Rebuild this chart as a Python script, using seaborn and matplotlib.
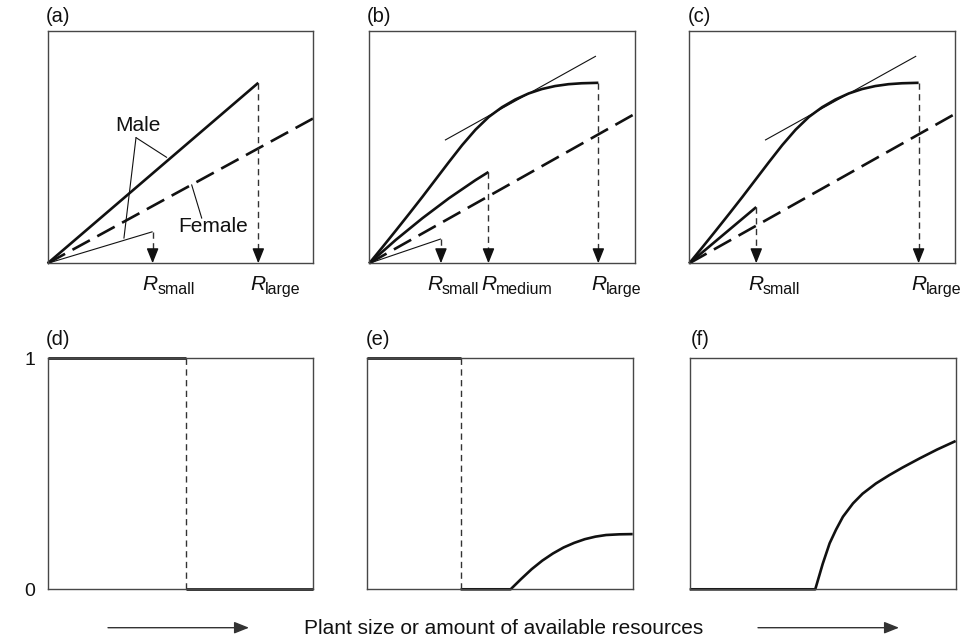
import numpy as np
import pandas as pd
import matplotlib
matplotlib.use('Agg')
import matplotlib.pyplot as plt
import seaborn as sns
from matplotlib.patches import FancyArrowPatch

# ---------------- data (axes normalised 0..1) ----------------
# panel (a)
a_large_x = [0.0, 0.793]
a_large_y = [0.0, 0.777]
a_small_x = [0.0, 0.395]
a_small_y = [0.0, 0.136]
a_female_x = [0.0, 1.0]
a_female_y = [0.0, 0.624]
a_r_small, a_r_large = 0.395, 0.793

# panels (b) and (c): large curve and tangent
bc_large_x = [0.0, 0.05, 0.10, 0.15, 0.20, 0.25, 0.30, 0.35, 0.40, 0.45,
              0.50, 0.55, 0.60, 0.65, 0.70, 0.75, 0.80, 0.863]
bc_large_y = [0.0, 0.070, 0.141, 0.213, 0.286, 0.361, 0.436, 0.509, 0.575, 0.630,
              0.672, 0.705, 0.731, 0.750, 0.763, 0.771, 0.775, 0.777]
bc_tangent_x = [0.285, 0.854]
bc_tangent_y = [0.530, 0.892]
bc_female_x = [0.0, 1.0]
bc_female_y = [0.0, 0.643]

# panel (b)
b_medium_x = [0.0, 0.10, 0.20, 0.30, 0.40, 0.449]
b_medium_y = [0.0, 0.101, 0.194, 0.280, 0.358, 0.393]
b_small_x = [0.0, 0.270]
b_small_y = [0.0, 0.105]
b_r_small, b_r_medium, b_r_large = 0.270, 0.449, 0.863

# panel (c)
c_small_x = [0.0, 0.252]
c_small_y = [0.0, 0.242]
c_r_small, c_r_large = 0.252, 0.863

# panel (d)
d_switch = 0.521
# panel (e)
e_switch = 0.353
e_curve_x = [0.353, 0.541, 0.58, 0.62, 0.66, 0.70, 0.74, 0.78, 0.82, 0.86, 0.90, 0.95, 1.0]
e_curve_y = [0.0, 0.0, 0.044, 0.087, 0.124, 0.155, 0.181, 0.201, 0.217, 0.228, 0.235, 0.238, 0.239]
# panel (f)
f_curve_x = [0.0, 0.472, 0.50, 0.526, 0.55, 0.576, 0.614, 0.65, 0.70, 0.75, 0.80, 0.865, 0.93, 1.0]
f_curve_y = [0.0, 0.0, 0.110, 0.199, 0.258, 0.314, 0.372, 0.414, 0.458, 0.494, 0.527, 0.567, 0.605, 0.642]

panel_labels = ['(a)', '(b)', '(c)', '(d)', '(e)', '(f)']
gender_ticks = [0, 1]
gender_ticklabels = ['0', '1']
caption = 'Plant size or amount of available resources'

# ---------------- style ----------------
sns.set_theme(style='white')
plt.rcParams['font.family'] = ['Liberation Sans', 'DejaVu Sans']

INK = '#111111'
SPINE = '#474747'
THICK = 1.9
THIN = 0.8

W, H = 963, 640
fig = plt.figure(figsize=(W / 100, H / 100), dpi=100)
PT = 72 / 100  # points per pixel


def px_axes(left, top, right, bottom):
    ax = fig.add_axes([left / W, 1 - bottom / H, (right - left) / W, (bottom - top) / H])
    ax.set_xlim(0, 1)
    ax.set_ylim(0, 1)
    ax.set_xticks([])
    ax.set_yticks([])
    for s in ax.spines.values():
        s.set_color(SPINE)
        s.set_linewidth(1.0)
        s.set_visible(True)
    return ax


def draw(ax, xs, ys, lw=THICK, ls='-', color=INK, clip=False):
    df = pd.DataFrame({'x': xs, 'y': ys})
    sns.lineplot(data=df, x='x', y='y', ax=ax, color=color, linewidth=lw,
                 linestyle=ls, estimator=None, sort=False, clip_on=clip,
                 solid_capstyle='butt', solid_joinstyle='round')
    ax.set_xlabel('')
    ax.set_ylabel('')


def down_arrow(ax, x, y_top):
    ax.plot([x, x], [y_top, 0.05], linestyle=(0, (4.5, 3.2)), lw=1.0, color='#333333')
    ax.annotate('', xy=(x, 0), xytext=(x, 0.055),
                arrowprops=dict(arrowstyle='-|>,head_length=0.9,head_width=0.36',
                                mutation_scale=10, color=INK, lw=1.0,
                                shrinkA=0, shrinkB=0),
                annotation_clip=False)


R_SIZE = 15
SUB_SIZE = 11.5


def r_label(ax, x, sub, dx_px):
    # italic R, then an upright subscript slightly lower
    ax.annotate('R', xy=(x, 0), xycoords='data',
                xytext=(dx_px * PT, -27 * PT), textcoords='offset points',
                ha='left', va='baseline', fontsize=R_SIZE, style='italic',
                color=INK, annotation_clip=False)
    r_width_pt = 0.722 * R_SIZE
    ax.annotate(sub, xy=(x, 0), xycoords='data',
                xytext=(dx_px * PT + r_width_pt - 0.3, -31 * PT), textcoords='offset points',
                ha='left', va='baseline', fontsize=SUB_SIZE,
                color=INK, annotation_clip=False)


FEMALE_LS = (0, (7.5, 3.2))

# ---------------- top row ----------------
ax_a = px_axes(47.7, 31.0, 313.3, 263.3)
ax_b = px_axes(369.3, 31.0, 634.7, 263.3)
ax_c = px_axes(689.3, 31.0, 955.0, 263.3)

# (a)
draw(ax_a, a_large_x, a_large_y)
draw(ax_a, a_female_x, a_female_y, ls=FEMALE_LS)
draw(ax_a, a_small_x, a_small_y, lw=THIN)
down_arrow(ax_a, a_r_small, a_small_y[-1])
down_arrow(ax_a, a_r_large, a_large_y[-1])
r_label(ax_a, a_r_small, 'small', -10)
r_label(ax_a, a_r_large, 'large', -8)
ax_a.text(0.341, 0.5695, 'Male', ha='center', va='baseline', fontsize=15, color=INK)
ax_a.plot([0.3325, 0.448], [0.541, 0.456], lw=THIN, color=INK)
ax_a.plot([0.3325, 0.287], [0.541, 0.108], lw=THIN, color=INK)
ax_a.text(0.624, 0.136, 'Female', ha='center', va='baseline', fontsize=15, color=INK)
ax_a.plot([0.580, 0.542], [0.194, 0.338], lw=THIN, color=INK)

# (b)
draw(ax_b, bc_large_x, bc_large_y)
draw(ax_b, bc_tangent_x, bc_tangent_y, lw=THIN)
draw(ax_b, b_medium_x, b_medium_y)
draw(ax_b, bc_female_x, bc_female_y, ls=FEMALE_LS)
draw(ax_b, b_small_x, b_small_y, lw=THIN)
down_arrow(ax_b, b_r_small, b_small_y[-1])
down_arrow(ax_b, b_r_medium, b_medium_y[-1])
down_arrow(ax_b, b_r_large, bc_large_y[-1])
r_label(ax_b, b_r_small, 'small', -14)
r_label(ax_b, b_r_medium, 'medium', -7)
r_label(ax_b, b_r_large, 'large', -7)

# (c)
draw(ax_c, bc_large_x, bc_large_y)
draw(ax_c, bc_tangent_x, bc_tangent_y, lw=THIN)
draw(ax_c, c_small_x, c_small_y)
draw(ax_c, bc_female_x, bc_female_y, ls=FEMALE_LS)
down_arrow(ax_c, c_r_small, c_small_y[-1])
down_arrow(ax_c, c_r_large, bc_large_y[-1])
r_label(ax_c, c_r_small, 'small', -8)
r_label(ax_c, c_r_large, 'large', -7)

ax_a.set_ylabel('Fertility', fontsize=15, labelpad=14, color=INK)

# ---------------- bottom row ----------------
ax_d = px_axes(47.7, 358.3, 313.3, 589.3)
ax_e = px_axes(366.7, 358.3, 632.7, 589.3)
ax_f = px_axes(689.7, 358.3, 955.7, 589.3)

# (d)
draw(ax_d, [0.0, d_switch], [1, 1])
draw(ax_d, [d_switch, 1.0], [0, 0])
ax_d.plot([d_switch, d_switch], [0, 1], linestyle=(0, (4.5, 3.2)), lw=1.0, color='#333333')

# (e)
draw(ax_e, [0.0, e_switch], [1, 1])
draw(ax_e, e_curve_x, e_curve_y)
ax_e.plot([e_switch, e_switch], [0, 1], linestyle=(0, (4.5, 3.2)), lw=1.0, color='#333333')

# (f)
draw(ax_f, f_curve_x, f_curve_y)

ax_d.set_yticks(gender_ticks)
ax_d.set_yticklabels(gender_ticklabels, fontsize=14, color=INK)
ax_d.tick_params(axis='y', length=0, pad=9)
ax_d.set_ylabel('Gender', fontsize=15, labelpad=4, color=INK)

# panel letters
letter_pos = [(46, 22), (367, 22), (688, 22), (46, 345), (366, 345), (691, 345)]
for lab, (px, py) in zip(panel_labels, letter_pos):
    fig.text(px / W, 1 - py / H, lab, ha='left', va='baseline', fontsize=14.5, color=INK)

# caption and arrows
fig.text(504 / W, 1 - 628 / H, caption, ha='center', va='center', fontsize=15, color=INK)
for x0, x1 in [(108, 249), (758, 899)]:
    arr = FancyArrowPatch((x0 / W, 1 - 627.7 / H), (x1 / W, 1 - 627.7 / H),
                          transform=fig.transFigure,
                          arrowstyle='-|>,head_length=0.9,head_width=0.36',
                          mutation_scale=10, color='#333333', lw=1.0,
                          shrinkA=0, shrinkB=0)
    fig.add_artist(arr)

fig.savefig('out.png', dpi=100)
